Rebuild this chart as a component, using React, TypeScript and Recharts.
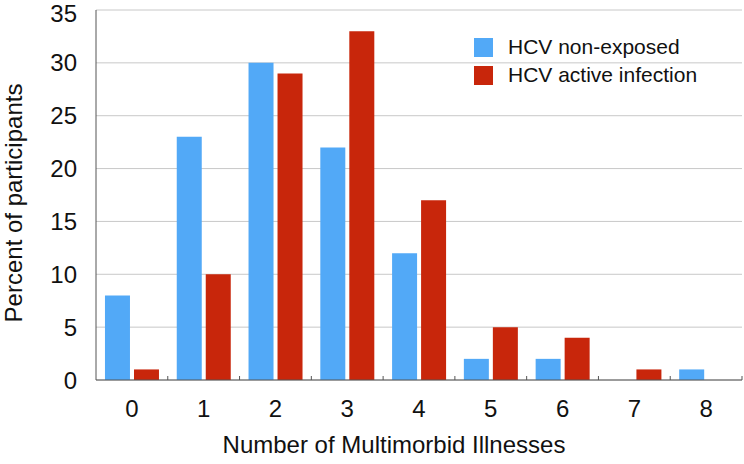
import { BarChart, Bar, XAxis, YAxis, CartesianGrid } from 'recharts';

const categories = ['0', '1', '2', '3', '4', '5', '6', '7', '8'];
const nonExposed = [8, 23, 30, 22, 12, 2, 2, 0, 1];
const activeInfection = [1, 10, 29, 33, 17, 5, 4, 1, 0];
const yTicks = [0, 5, 10, 15, 20, 25, 30, 35];

const data = categories.map((c, i) => ({
  name: c,
  nonExposed: nonExposed[i],
  active: activeInfection[i],
}));

const BLUE = '#52a9f7';
const RED = '#c8260b';
const FONT = '"Liberation Sans", Arial, Helvetica, sans-serif';
const BAND = 646 / categories.length;

const legendItems = [
  { label: 'HCV non-exposed', color: BLUE },
  { label: 'HCV active infection', color: RED },
];

function LegendBox() {
  return (
    <div style={{ position: 'absolute', left: 474, top: 33, fontFamily: FONT, fontSize: 21, color: '#111' }}>
      {legendItems.map((it) => (
        <div key={it.label} style={{ display: 'flex', alignItems: 'center', height: 28 }}>
          <span style={{ width: 19, height: 19, background: it.color, marginRight: 15, display: 'inline-block' }} />
          <span>{it.label}</span>
        </div>
      ))}
    </div>
  );
}

// category label plus the small boundary tick mark sitting on the axis
function XTick(props: any) {
  const { x, y, payload } = props;
  const axisY = 380;
  return (
    <g>
      <line x1={x + BAND / 2} x2={x + BAND / 2} y1={axisY} y2={axisY - 4} stroke="#555" />
      <text x={x} y={y} dy="0.71em" textAnchor="middle" fill="#111" fontSize={24} fontFamily={FONT}>
        {payload.value}
      </text>
    </g>
  );
}

export default function App() {
  return (
    <div style={{ position: 'absolute', left: 0, top: 0, width: 744, height: 464, background: '#fff' }}>
      <BarChart
        width={744}
        height={464}
        data={data}
        margin={{ top: 10, right: 2, bottom: 34, left: 0 }}
        barCategoryGap="12.5%"
        barGap={4}
      >
        <CartesianGrid vertical={false} stroke="#c8c8c8" />
        <XAxis
          dataKey="name"
          height={50}
          tickLine={false}
          tickSize={0}
          tickMargin={20}
          axisLine={{ stroke: '#555' }}
          tick={<XTick />}
          label={{
            content: () => (
              <text x={394} y={453} textAnchor="middle" fill="#111" fontSize={24} fontFamily={FONT}>
                Number of Multimorbid Illnesses
              </text>
            ),
          }}
        />
        <YAxis
          width={96}
          domain={[0, 35]}
          ticks={yTicks}
          tickLine={false}
          tickSize={0}
          tickMargin={19}
          axisLine={{ stroke: '#555' }}
          tick={{ fill: '#111', fontSize: 24, fontFamily: FONT }}
          label={{
            content: () => (
              <text x={22} y={203} textAnchor="middle" transform="rotate(-90 22 203)" fill="#111" fontSize={24} fontFamily={FONT}>
                Percent of participants
              </text>
            ),
          }}
        />
        <Bar dataKey="nonExposed" name="HCV non-exposed" fill={BLUE} isAnimationActive={false} />
        <Bar dataKey="active" name="HCV active infection" fill={RED} isAnimationActive={false} />
      </BarChart>
      <LegendBox />
    </div>
  );
}
